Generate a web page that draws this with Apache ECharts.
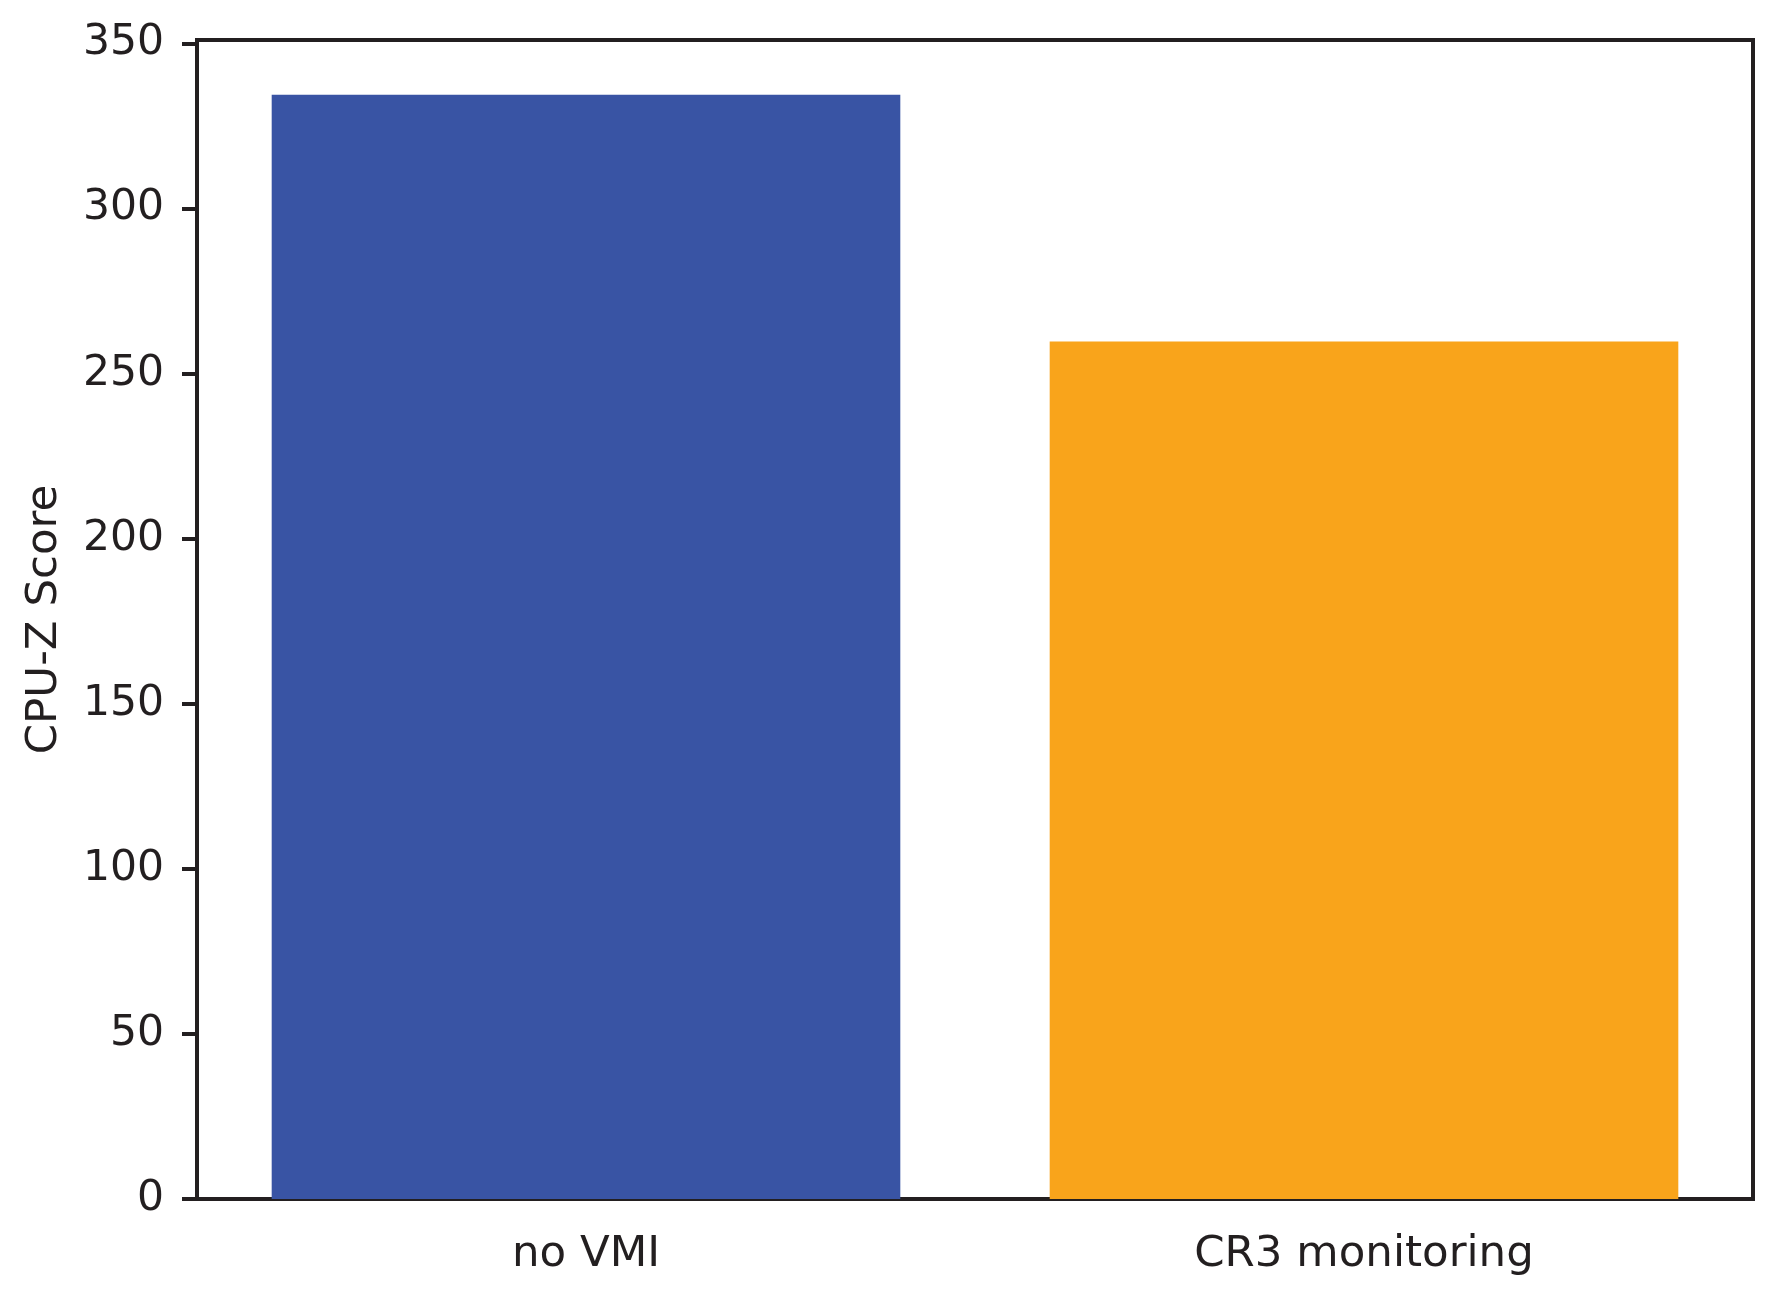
<!DOCTYPE html>
<html>
<head>
<meta charset="utf-8">
<script src="https://cdn.jsdelivr.net/npm/echarts@6/dist/echarts.min.js"></script>
<style>
  html, body { margin: 0; padding: 0; background: #fff; }
  #chart { width: 1786px; height: 1302px; }
</style>
</head>
<body>
<div id="chart"></div>
<script>
// data
const categories = ["no VMI", "CR3 monitoring"];
const scores = [334.4, 259.7];
const barColors = ["#3954a4", "#f9a41b"];
const yTicks = [0, 50, 100, 150, 200, 250, 300, 350];

const ink = "#231f20";
const font = "DejaVu Sans";

var chart = echarts.init(document.getElementById("chart"));

chart.setOption({
  animation: false,
  backgroundColor: "#ffffff",
  grid: {
    left: 197, right: 33, top: 40, bottom: 103,
    show: true, borderColor: ink, borderWidth: 4, backgroundColor: "transparent"
  },
  xAxis: {
    type: "category",
    data: categories,
    axisLine: { lineStyle: { color: ink, width: 4 } },
    axisTick: { alignWithLabel: true, length: 14, lineStyle: { color: ink, width: 4 } },
    axisLabel: { color: ink, fontFamily: font, fontSize: 43.5, margin: 34 },
    splitLine: { show: false }
  },
  yAxis: {
    type: "value",
    min: yTicks[0],
    max: 351,
    interval: 50,
    name: "CPU-Z Score",
    nameLocation: "middle",
    nameGap: 130,
    nameTextStyle: { color: ink, fontFamily: font, fontSize: 43.5 },
    axisLine: { show: true, lineStyle: { color: ink, width: 4 } },
    axisTick: { show: true, length: 15, lineStyle: { color: ink, width: 4 } },
    axisLabel: { color: ink, fontFamily: font, fontSize: 42.5, margin: 33 },
    splitLine: { show: false }
  },
  series: [{
    type: "bar",
    barWidth: "80.8%",
    data: scores.map(function (v, i) {
      return { value: v, itemStyle: { color: barColors[i] } };
    })
  }]
});
</script>
</body>
</html>
